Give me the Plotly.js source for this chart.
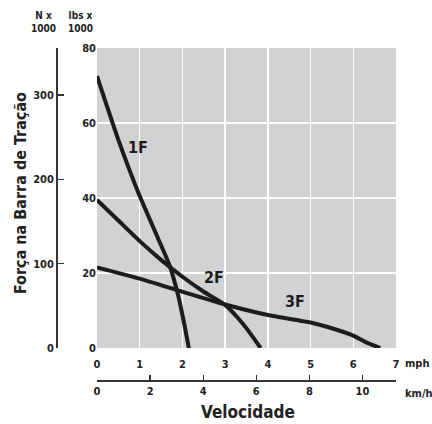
<!DOCTYPE html>
<html><head><meta charset="utf-8">
<script src="https://cdn.plot.ly/plotly-3.0.1.min.js"></script>
<style>html,body{margin:0;padding:0;background:#fff}#c{width:432px;height:424px}</style>
</head><body><div id="c"></div>
<script>
// mph, lbs x 1000
const f1_mph = [0, 0.5, 1, 1.4, 1.7, 1.9, 2.05, 2.15];
const f1_lbs = [72.5, 55.5, 40.5, 30, 22, 14, 6, 0];
const f2_mph = [0, 0.5, 1, 1.5, 2, 2.5, 3, 3.3, 3.55, 3.83];
const f2_lbs = [39.5, 34, 28.5, 23.5, 19, 15, 11.5, 8, 4.5, 0];
const f3_mph = [0, 1, 2, 3, 4, 5, 5.4, 6, 6.3, 6.63];
const f3_lbs = [21.5, 18.5, 15, 11.6, 8.8, 6.8, 5.6, 3.3, 1.5, 0];
const mphTicks = [0, 1, 2, 3, 4, 5, 6, 7];
const kmhTicks = [0, 2, 4, 6, 8, 10];
const kNTicks = [0, 100, 200, 300];
const lbsTicks = [0, 20, 40, 60, 80];
const curveNames = ['1F', '2F', '3F'];
const labelPos = [[0.96, 53.5], [2.74, 18.7], [4.64, 12.3]];
const KMH_PER_MPH = 1.609344, N_PER_LBF = 4.448222;

const FONT = 'DejaVu Sans Condensed, Liberation Sans Narrow, Arial Narrow, sans-serif';
const INK = '#1c1c1c';
const lineStyle = {color: INK, width: 4, shape: 'spline', smoothing: 0.5};
const traces = [
  {x: f1_mph, y: f1_lbs, mode: 'lines', line: lineStyle, name: '1F', hoverinfo: 'skip'},
  {x: f2_mph, y: f2_lbs, mode: 'lines', line: lineStyle, name: '2F', hoverinfo: 'skip'},
  {x: f3_mph, y: f3_lbs, mode: 'lines', line: lineStyle, name: '3F', hoverinfo: 'skip'},
  {x: [], y: [], xaxis: 'x2', yaxis: 'y2', mode: 'lines', hoverinfo: 'skip', showlegend: false}
];
const tickFont = {family: FONT, size: 11, color: '#222', weight: 'bold'};
const layout = {
  width: 432, height: 424,
  margin: {l: 56, r: 36, t: 48, b: 44},
  paper_bgcolor: '#fff', plot_bgcolor: '#d1d2d4',
  showlegend: false,
  font: {family: FONT, color: '#222'},
  xaxis: {domain: [0.1206, 1], range: [0, 7], tickvals: mphTicks, ticks: 'outside', ticklen: 6,
          tickcolor: 'rgba(0,0,0,0)', showgrid: true,
          gridcolor: '#fff', gridwidth: 1.5, zeroline: false, showline: false, tickfont: tickFont,
          fixedrange: true},
  yaxis: {domain: [0.0964, 1], range: [0, 80], tickvals: lbsTicks, ticks: '', showgrid: true,
          gridcolor: '#fff', gridwidth: 1.5, zeroline: false, showline: false, tickfont: tickFont,
          fixedrange: true},
  xaxis2: {overlaying: 'x', anchor: 'free', position: 0, side: 'bottom',
           range: [0, 7 * KMH_PER_MPH], tickvals: kmhTicks, ticks: 'inside', ticklen: 5,
           tickcolor: '#333', tickwidth: 1.2, showline: true, linecolor: '#333', linewidth: 1.5,
           showgrid: false, zeroline: false, tickfont: tickFont, fixedrange: true},
  yaxis2: {overlaying: 'y', anchor: 'free', position: 0, side: 'left',
           range: [0, 80 * N_PER_LBF], tickvals: kNTicks, ticks: 'inside', ticklen: 6,
           tickcolor: '#333', tickwidth: 1.2, showline: true, linecolor: '#333', linewidth: 1.5,
           showgrid: false, zeroline: false, tickfont: tickFont, fixedrange: true},
  annotations: [
    ...curveNames.map((t, i) => ({text: t, x: labelPos[i][0], y: labelPos[i][1], xref: 'x', yref: 'y',
      xanchor: 'center', yanchor: 'middle',
      showarrow: false, font: {family: FONT, size: 16, color: INK, weight: 'bold'}})),
    {text: 'mph', x: 1.02, y: 0.0964, xref: 'paper', yref: 'paper', xanchor: 'left', yanchor: 'top', yshift: -7,
     showarrow: false, font: tickFont},
    {text: 'km/h', x: 1.02, y: 0, xref: 'paper', yref: 'paper', xanchor: 'left', yanchor: 'top', yshift: -5,
     showarrow: false, font: tickFont},
    {text: 'N x<br>1000', x: -0.038, y: 1.078, xref: 'paper', yref: 'paper', xanchor: 'center', yanchor: 'middle',
     showarrow: false, font: {family: FONT, size: 10, color: '#222', weight: 'bold'}},
    {text: 'lbs x<br>1000', x: 0.0735, y: 1.078, xref: 'paper', yref: 'paper', xanchor: 'center', yanchor: 'middle',
     showarrow: false, font: {family: FONT, size: 10, color: '#222', weight: 'bold'}},
    {text: 'Força na Barra de Tração', x: -0.1059, y: 0.563, xref: 'paper', yref: 'paper', textangle: -90,
     xanchor: 'center', yanchor: 'middle',
     showarrow: false, font: {family: FONT, size: 16, color: '#222', weight: 'bold'}},
    {text: 'Velocidade', x: 0.5647, y: -0.0964, xref: 'paper', yref: 'paper', xanchor: 'center', yanchor: 'middle',
     showarrow: false, font: {family: FONT, size: 17, color: '#222', weight: 'bold'}}
  ]
};
Plotly.newPlot('c', traces, layout, {displayModeBar: false, staticPlot: true});
</script></body></html>
